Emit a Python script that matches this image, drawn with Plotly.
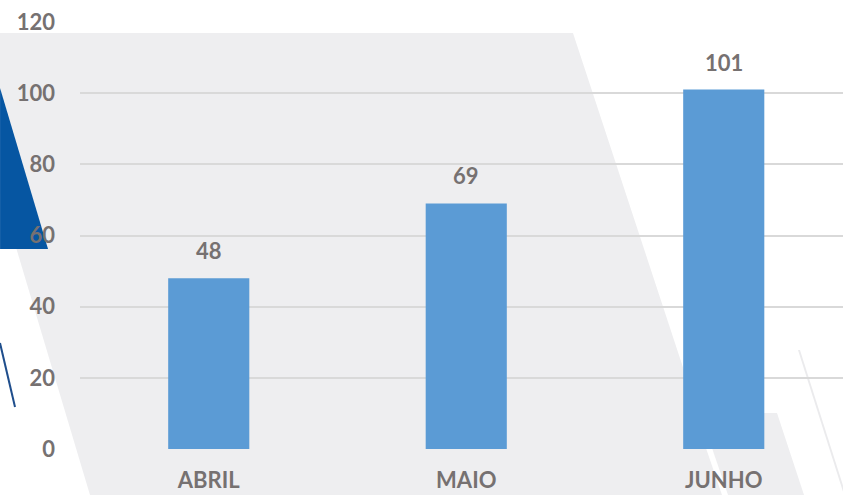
"""Bar chart: Abril / Maio / Junho."""
import plotly.graph_objects as go

months = ['ABRIL', 'MAIO', 'JUNHO']
values = [48, 69, 101]
y_ticks = [0, 20, 40, 60, 80, 100, 120]

bar_color = '#5B9BD5'
text_color = '#767171'
font_family = 'Lato, "Open Sans", sans-serif'

W, H = 843, 495
L, R, T, B = 80, 0, 22, 46
pw = W - L - R
ph = H - T - B


def px(x, y):
    # pixel position -> paper coords
    return (x - L) / pw, (H - B - y) / ph


def path(points):
    parts = []
    for i, (x, y) in enumerate(points):
        a, b = px(x, y)
        parts.append(('M' if i == 0 else 'L') + ' {:.4f},{:.4f}'.format(a, b))
    return ' '.join(parts) + ' Z'


fig = go.Figure()
fig.add_trace(go.Bar(
    x=months,
    y=values,
    width=0.315,
    marker=dict(color=bar_color, line=dict(width=0)),
    hoverinfo='x+y',
))

# value labels above the bars
for m, v in zip(months, values):
    fig.add_annotation(
        x=m, y=v, text='<b>{}</b>'.format(v),
        showarrow=False, yanchor='bottom', yshift=12,
        font=dict(size=22, color=text_color, family=font_family),
    )

# background decoration
shapes = []
# big grey parallelogram
shapes.append(dict(type='path', path=path([(-48, 33), (573, 33), (725, 495), (90, 495)]),
                   fillcolor='#EEEEF0', line=dict(width=0)))
# small grey block lower right
shapes.append(dict(type='path', path=path([(690, 413), (777, 413), (804, 495), (690, 495)]),
                   fillcolor='#EEEEF0', line=dict(width=0)))
# white stripe inside lower right
shapes.append(dict(type='path', path=path([(706, 448), (712, 448), (728, 495), (722, 495)]),
                   fillcolor='#FFFFFF', line=dict(width=0)))
# thin light line far right
shapes.append(dict(type='path', path=path([(798, 350), (800, 350), (846, 495), (844, 495)]),
                   fillcolor='#EBEBED', line=dict(width=0)))
# blue triangle
shapes.append(dict(type='path', path=path([(0, 88), (48, 249), (0, 249)]),
                   fillcolor='#0656A2', line=dict(width=0)))
# thin blue line
a, b = px(0, 343)
c, d = px(15, 407)
shapes.append(dict(type='line', x0=a, y0=b, x1=c, y1=d,
                   line=dict(color='#1F4E8C', width=2)))
for s in shapes:
    s.update(xref='paper', yref='paper', layer='below')

fig.update_layout(
    width=W, height=H,
    margin=dict(l=L, r=R, t=T, b=B, pad=0),
    paper_bgcolor='white',
    plot_bgcolor='rgba(0,0,0,0)',
    showlegend=False,
    shapes=shapes,
    font=dict(family=font_family, color=text_color),
)
fig.update_xaxes(
    range=[-0.5, -0.5 + pw / 257.5],
    showgrid=False, zeroline=False, showline=False,
    ticks='', ticklabelstandoff=16,
    tickfont=dict(size=22, color=text_color, family=font_family),
    tickvals=months, ticktext=['<b>{}</b>'.format(m) for m in months],
)
fig.update_yaxes(
    range=[0, 120],
    tickvals=y_ticks,
    ticktext=['<b>{}</b>'.format(t) for t in y_ticks],
    showgrid=True, gridcolor='#D9D9D9', gridwidth=1.5,
    zeroline=False, showline=False, ticks='',
    ticklabelstandoff=24,
    tickfont=dict(size=22, color=text_color, family=font_family),
)

fig.write_html("out.html",
               config={'displayModeBar': False},
               post_script='document.body.style.margin = "0";')
